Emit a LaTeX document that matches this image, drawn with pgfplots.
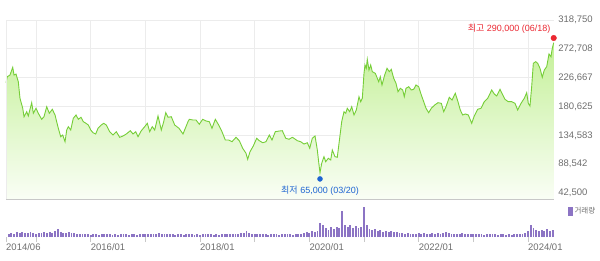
\documentclass[border=0pt]{standalone}
\usepackage{fontspec}
\setmainfont{Liberation Sans}
\newfontfamily\kr{Noto Sans CJK KR}
\usepackage{pgfplots}
\usepackage{pgfplotstable}
\pgfplotsset{compat=1.18}
\definecolor{linegreen}{RGB}{118,206,56}
\definecolor{filltop}{RGB}{196,240,152}
\definecolor{fillbot}{RGB}{250,254,246}
\definecolor{gridc}{RGB}{236,236,236}
\definecolor{axisc}{RGB}{200,200,200}
\definecolor{tickc}{RGB}{110,110,110}
\definecolor{volc}{RGB}{140,116,196}
\definecolor{maxred}{RGB}{235,40,50}
\definecolor{minblue}{RGB}{30,100,210}

\pgfplotstableread{
x y
2014.451 218600
2014.475 228200
2014.524 230900
2014.574 243200
2014.598 230900
2014.634 232500
2014.676 220200
2014.707 193700
2014.757 177800
2014.781 164300
2014.830 172300
2014.859 165500
2014.921 186700
2014.951 169800
2015.000 177800
2015.042 169800
2015.104 160200
2015.146 164300
2015.196 180300
2015.243 169800
2015.298 176200
2015.348 167100
2015.408 145800
2015.452 132400
2015.488 135100
2015.531 124400
2015.562 143100
2015.591 148400
2015.635 143100
2015.682 161800
2015.732 167100
2015.774 160200
2015.823 163400
2015.865 156400
2015.915 153800
2015.957 151100
2016.001 143100
2016.043 138800
2016.092 136700
2016.134 145800
2016.194 151100
2016.238 153800
2016.286 151100
2016.348 140400
2016.408 135100
2016.469 140400
2016.531 131400
2016.591 133500
2016.652 136700
2016.725 142000
2016.774 136700
2016.824 140400
2016.866 132400
2016.926 142000
2016.988 148400
2017.036 153800
2017.080 140400
2017.127 148400
2017.171 143100
2017.232 165500
2017.292 143100
2017.336 156400
2017.373 170700
2017.415 163400
2017.475 164300
2017.537 151100
2017.616 145800
2017.689 136700
2017.780 156400
2017.804 160200
2017.866 159100
2017.927 159100
2017.987 152200
2018.049 160200
2018.110 157500
2018.170 156400
2018.219 145800
2018.280 160200
2018.342 151100
2018.402 140400
2018.463 127100
2018.525 127100
2018.585 124400
2018.658 131400
2018.719 126000
2018.781 113900
2018.841 105900
2018.872 96300
2018.915 108500
2018.975 117600
2019.037 129900
2019.085 126000
2019.147 122800
2019.207 124400
2019.268 135100
2019.317 127100
2019.377 140400
2019.451 141500
2019.505 142000
2019.568 129900
2019.628 128300
2019.688 131400
2019.719 129900
2019.780 126000
2019.842 124400
2019.902 120700
2019.963 122800
2020.007 113900
2020.054 129900
2020.104 133500
2020.146 111200
2020.177 87200
2020.195 74900
2020.226 89900
2020.268 100500
2020.299 92500
2020.347 97900
2020.391 95200
2020.420 111200
2020.469 100500
2020.511 99500
2020.543 121900
2020.592 156400
2020.634 172300
2020.665 169800
2020.694 177800
2020.738 172300
2020.775 180300
2020.817 167100
2020.859 175000
2020.908 196300
2020.939 188300
2020.969 193700
2021.000 233600
2021.018 246900
2021.042 241600
2021.060 256000
2021.091 238900
2021.122 246900
2021.152 236200
2021.207 233600
2021.269 220200
2021.298 228200
2021.329 215000
2021.378 230900
2021.421 241600
2021.463 236200
2021.499 240000
2021.543 225700
2021.585 217700
2021.622 204300
2021.664 209700
2021.708 207000
2021.737 196300
2021.768 209700
2021.818 212200
2021.865 207000
2021.909 208100
2021.951 215000
2022.000 212200
2022.048 199000
2022.092 188300
2022.134 177800
2022.183 170700
2022.231 177800
2022.293 183000
2022.353 186700
2022.414 185700
2022.458 172300
2022.500 180300
2022.560 195300
2022.610 191000
2022.670 201700
2022.719 188300
2022.761 175000
2022.805 167100
2022.853 168700
2022.908 167100
2022.970 153800
2023.017 165500
2023.080 176200
2023.140 177800
2023.200 188300
2023.263 193700
2023.336 207000
2023.383 200600
2023.427 197400
2023.488 208100
2023.530 200600
2023.579 192100
2023.639 188300
2023.702 188300
2023.762 185700
2023.811 175000
2023.872 185700
2023.932 193700
2023.976 202700
2024.005 185700
2024.036 181400
2024.067 212200
2024.097 249600
2024.141 252200
2024.177 249600
2024.219 241600
2024.261 227300
2024.298 238900
2024.342 244200
2024.384 264500
2024.420 260100
2024.444 273600
2024.470 282500
}\price

\pgfplotstableread{
x v
2014.50 320
2014.55 410
2014.60 350
2014.65 460
2014.70 380
2014.75 520
2014.80 430
2014.85 360
2014.90 480
2014.95 400
2015.00 350
2015.05 440
2015.10 380
2015.15 470
2015.20 390
2015.25 500
2015.30 420
2015.35 560
2015.40 800
2015.45 520
2015.50 450
2015.55 380
2015.60 480
2015.65 360
2015.70 420
2015.75 300
2015.80 280
2015.85 330
2015.90 260
2015.95 290
2016.00 250
2016.05 310
2016.10 270
2016.15 240
2016.20 300
2016.25 260
2016.30 280
2016.35 330
2016.40 250
2016.45 270
2016.50 240
2016.55 290
2016.60 260
2016.65 310
2016.70 250
2016.75 280
2016.80 300
2016.85 240
2016.90 270
2016.95 260
2017.00 310
2017.05 280
2017.10 340
2017.15 270
2017.20 300
2017.25 360
2017.30 280
2017.35 320
2017.40 260
2017.45 300
2017.50 270
2017.55 250
2017.60 290
2017.65 260
2017.70 240
2017.75 280
2017.80 260
2017.85 300
2017.90 250
2017.95 270
2018.00 240
2018.05 290
2018.10 260
2018.15 300
2018.20 280
2018.25 250
2018.30 270
2018.35 240
2018.40 280
2018.45 300
2018.50 260
2018.55 330
2018.60 290
2018.65 350
2018.70 300
2018.75 380
2018.80 420
2018.85 560
2018.90 400
2018.95 330
2019.00 290
2019.05 270
2019.10 310
2019.15 260
2019.20 280
2019.25 250
2019.30 270
2019.35 300
2019.40 260
2019.45 240
2019.50 280
2019.55 260
2019.60 300
2019.65 270
2019.70 250
2019.75 290
2019.80 330
2019.85 300
2019.90 360
2019.95 480
2020.00 420
2020.05 560
2020.10 500
2020.15 650
2020.20 1400
2020.25 1150
2020.30 900
2020.35 750
2020.40 980
2020.45 820
2020.50 1000
2020.55 880
2020.60 2600
2020.65 1200
2020.70 1050
2020.75 1150
2020.80 950
2020.85 1100
2020.90 900
2020.95 1000
2021.00 3000
2021.05 1200
2021.10 850
2021.15 700
2021.20 800
2021.25 600
2021.30 750
2021.35 550
2021.40 650
2021.45 500
2021.50 600
2021.55 480
2021.60 550
2021.65 420
2021.70 380
2021.75 330
2021.80 400
2021.85 310
2021.90 350
2021.95 300
2022.00 380
2022.05 320
2022.10 400
2022.15 340
2022.20 300
2022.25 360
2022.30 320
2022.35 380
2022.40 340
2022.45 420
2022.50 500
2022.55 380
2022.60 320
2022.65 290
2022.70 340
2022.75 300
2022.80 360
2022.85 280
2022.90 310
2022.95 270
2023.00 300
2023.05 260
2023.10 320
2023.15 280
2023.20 250
2023.25 290
2023.30 270
2023.35 310
2023.40 260
2023.45 240
2023.50 280
2023.55 260
2023.60 230
2023.65 270
2023.70 250
2023.75 290
2023.80 320
2023.85 280
2023.90 350
2023.95 420
2024.00 600
2024.05 1200
2024.10 900
2024.15 750
2024.20 620
2024.25 700
2024.30 560
2024.35 780
2024.40 650
2024.45 720
}\volume

\begin{document}
\begin{tikzpicture}
\useasboundingbox (-6pt,-60pt) rectangle (594pt,200pt);
\begin{axis}[
  at={(0pt,0pt)}, anchor=south west,
  scale only axis, width=547.7pt, height=180pt,
  xmin=2014.451, xmax=2024.47, ymin=31327, ymax=318750,
  axis line style={draw=none},
  xtick={2015,2016,2017,2018,2019,2020,2021,2022,2023,2024},
  xticklabels={},
  major tick length=0pt,
  ytick={42500,88542,134583,180625,226667,272708,318750},
  scaled y ticks=false,
  yticklabel pos=right,
  yticklabel style={anchor=west, inner sep=0pt, xshift=4.5pt,
    font=\fontsize{9.5}{10}\selectfont, text=tickc},
  /pgf/number format/fixed,
  /pgf/number format/precision=0,
  /pgf/number format/1000 sep={,},
  /pgf/number format/assume math mode=true,
  grid=major, major grid style={gridc, line width=0.8pt},
  clip=false,
]
\addplot[top color=filltop, bottom color=fillbot, draw=none, forget plot] table {\price}
  -- (axis cs:2024.47,31327) -- (axis cs:2014.451,31327) -- cycle;
\addplot[linegreen, line width=0.9pt, forget plot] table {\price};
\draw[gridc, line width=0.8pt] (rel axis cs:0,0) -- (rel axis cs:0,1);
\draw[axisc, line width=1pt] (rel axis cs:0,0) -- (rel axis cs:1,0);
\addplot[only marks, mark=*, mark size=2.8pt, maxred, forget plot] coordinates {(2024.47,290000)};
\addplot[only marks, mark=*, mark size=2.5pt, minblue, forget plot] coordinates {(2020.195,65000)};
\node[anchor=base east, inner sep=0pt, text=maxred, font=\fontsize{9}{10}\selectfont, xshift=-3pt, yshift=7pt]
  at (axis cs:2024.47,290000) {{\kr 최고} 290,000 (06/18)};
\node[anchor=north, inner sep=0pt, text=minblue, font=\fontsize{9}{10}\selectfont, yshift=-7pt]
  at (axis cs:2020.195,65000) {{\kr 최저} 65,000 (03/20)};
\end{axis}
\begin{axis}[
  at={(0pt,-37pt)}, anchor=south west,
  scale only axis, width=547.7pt, height=37pt,
  xmin=2014.451, xmax=2024.47, ymin=0, ymax=3700,
  axis line style={draw=none},
  ytick=\empty,
  xtick={2014.451,2015,2016,2017,2018,2019,2020,2021,2022,2023,2024},
  xticklabels={2014/06,,2016/01,,2018/01,,2020/01,,2022/01,,2024/01},
  xtick pos=bottom, tick align=outside, major tick length=5pt,
  xtick style={axisc, line width=0.6pt},
  xticklabel style={anchor=north west, inner sep=0pt, yshift=-1pt, font=\fontsize{9.5}{10}\selectfont, text=tickc},
  clip=false,
  legend style={at={(1.026,0.70)}, anchor=west, draw=none, fill=none, inner sep=0pt,
    font=\kr\fontsize{7.5}{8}\selectfont, text=tickc},
  legend image code/.code={\fill[volc] (0pt,-3.5pt) rectangle (2.5pt,3.5pt);},
]
\addplot[ycomb, volc, line width=1.9pt, mark=none] table {\volume};
\addlegendentry{거래량}
\end{axis}
\end{tikzpicture}
\end{document}
